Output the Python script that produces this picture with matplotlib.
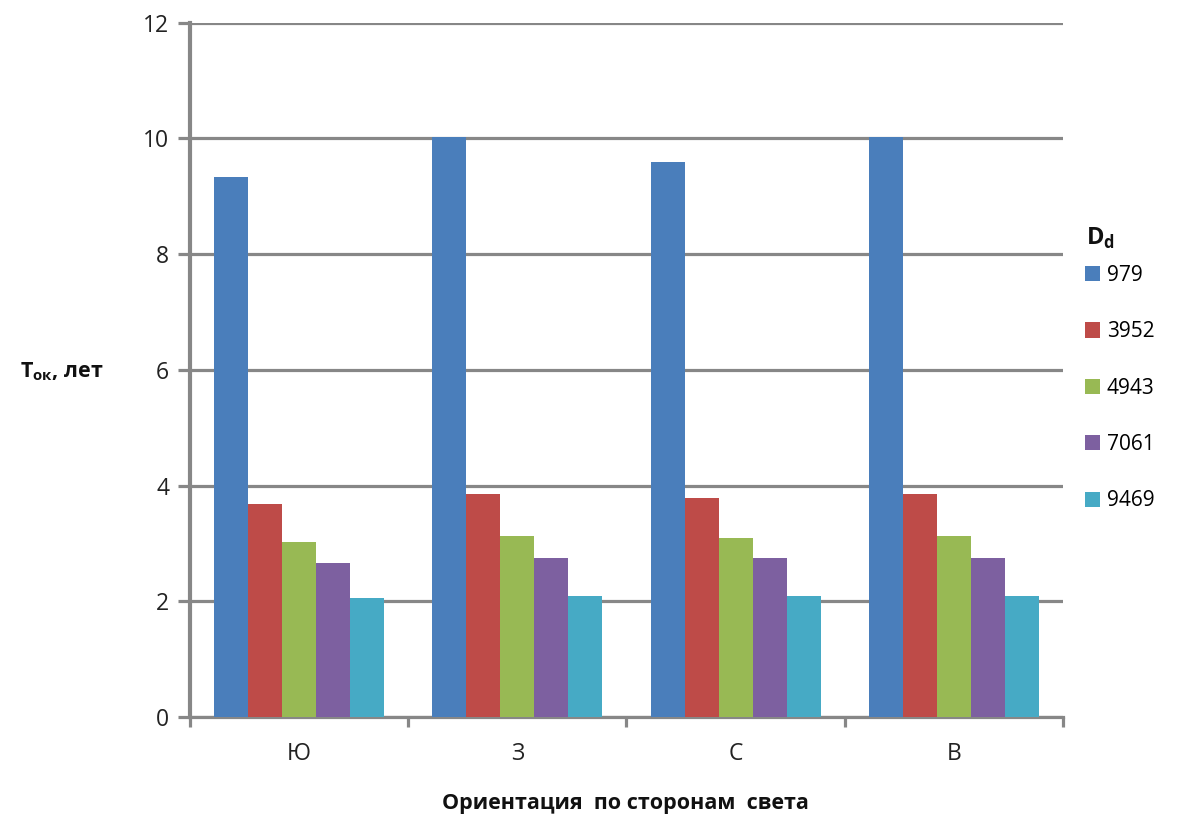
import matplotlib
matplotlib.use("Agg")
import matplotlib.pyplot as plt
from matplotlib.patches import Patch
import numpy as np

plt.rcParams['font.family'] = ['Open Sans', 'DejaVu Sans']
plt.rcParams['mathtext.fontset'] = 'custom'
plt.rcParams['mathtext.rm'] = 'Open Sans'
plt.rcParams['mathtext.bf'] = 'Open Sans:bold'

categories = ['Ю', 'З', 'С', 'В']
series_names = ['979', '3952', '4943', '7061', '9469']
v979 = [9.33, 10.03, 9.60, 10.03]
v3952 = [3.68, 3.85, 3.78, 3.85]
v4943 = [3.03, 3.13, 3.09, 3.13]
v7061 = [2.67, 2.74, 2.74, 2.74]
v9469 = [2.05, 2.09, 2.09, 2.09]
series_values = [v979, v3952, v4943, v7061, v9469]
y_ticks = [0, 2, 4, 6, 8, 10, 12]

colors = ['#4A7EBB', '#BE4B48', '#98B954', '#7D60A0', '#46AAC5']
grid_c = '#878787'

fig = plt.figure(figsize=(11.84, 8.30), dpi=100)
ax = fig.add_axes([190/1184, 1-717/830, (1063-190)/1184, (717-22.7)/830])

x = np.arange(len(categories))
w = 0.156
for i, (name, vals) in enumerate(zip(series_names, series_values)):
    ax.bar(x + (i - 2) * w, vals, width=w, color=colors[i], zorder=3, label=name)

ax.set_xlim(-0.5, len(categories) - 0.5)
ax.set_ylim(0, 12)
ax.set_yticks(y_ticks)
ax.set_yticklabels([str(t) for t in y_ticks], fontsize=16.5, color='#222222')
ax.yaxis.grid(True, color=grid_c, linewidth=2.3, zorder=0)
ax.set_axisbelow(True)

ax.set_xticks(x)
ax.set_xticklabels(categories, fontsize=16.5, color='#222222')
ax.set_xticks(np.arange(-0.5, len(categories) + 0.5, 1), minor=True)
ax.tick_params(axis='x', which='major', length=0, pad=18)
ax.tick_params(axis='x', which='minor', length=7, width=2.3, color=grid_c, direction='out')
ax.tick_params(axis='y', which='major', length=9, width=2.3, color=grid_c, pad=6)

for s in ['top', 'right']:
    ax.spines[s].set_visible(False)
ax.spines['left'].set_color(grid_c)
ax.spines['left'].set_linewidth(3.0)
ax.spines['bottom'].set_color(grid_c)
ax.spines['bottom'].set_linewidth(2.3)

fig.text(62/1184, 1-372/830, r'$\mathbf{T}_{\mathbf{ок}}$, лет', fontsize=15.5, fontweight='bold',
         ha='center', va='center', color='#111111')
fig.text(625/1184, 1-803/830, 'Ориентация  по сторонам  света', fontsize=15.5, fontweight='bold',
         ha='center', va='center', color='#111111')

# legend title
fig.text(1086/1184, 1-238/830, r'$\mathbf{D}_{\mathbf{d}}$', fontsize=17, fontweight='bold',
         ha='left', va='center', color='#111111')

handles = [Patch(facecolor=c, edgecolor='none') for c in colors]
leg = fig.legend(handles, series_names, loc='upper left',
                 bbox_to_anchor=(1066/1184, 1-246/830), frameon=False,
                 fontsize=15, labelspacing=1.7, handlelength=0.75, handleheight=0.75,
                 handletextpad=0.3)

fig.savefig('out.png', dpi=100, facecolor='white')
